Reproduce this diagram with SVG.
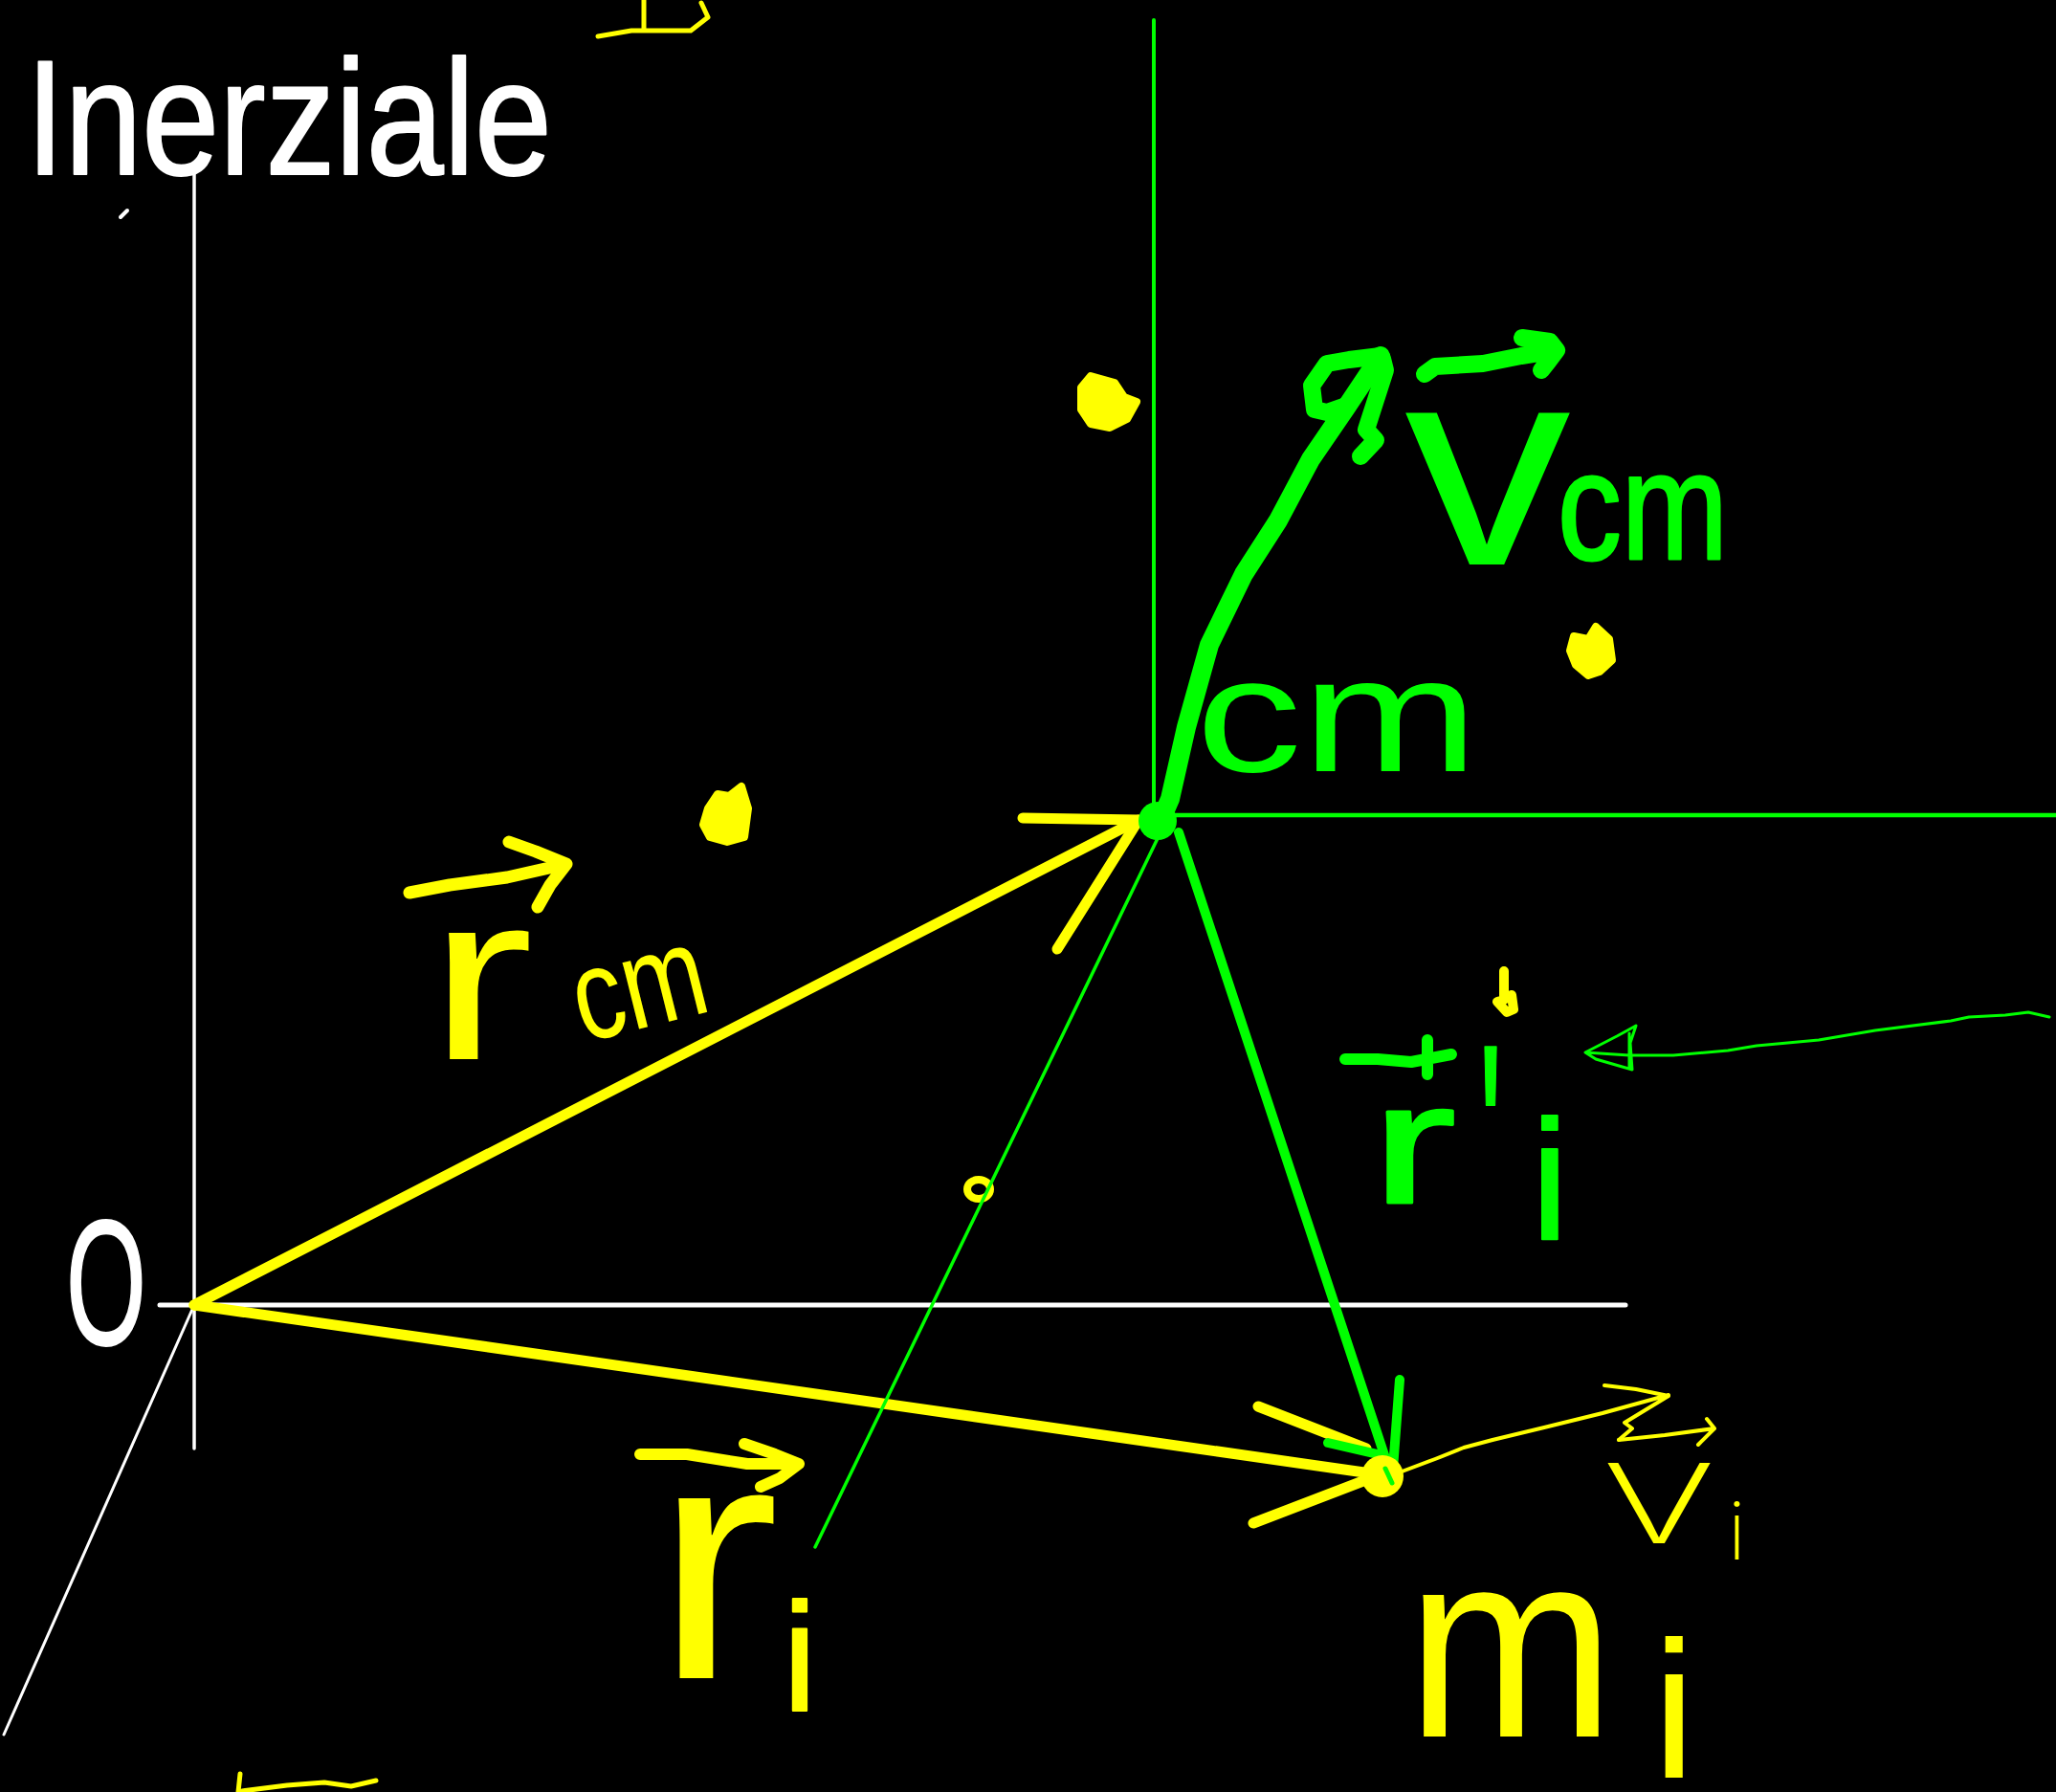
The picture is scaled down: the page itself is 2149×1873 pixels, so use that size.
<svg xmlns="http://www.w3.org/2000/svg" width="2149" height="1873" viewBox="0 0 2149 1873">
<style>
.s{fill:none;stroke-linecap:round;stroke-linejoin:round}
.W{stroke:#ffffff}.Y{stroke:#ffff00}.G{stroke:#00ff00}
.t{font-family:"Liberation Sans","DejaVu Sans",sans-serif;stroke-linejoin:round}
.tw{fill:#ffffff;stroke:#ffffff}.ty{fill:#ffff00;stroke:#ffff00}.tg{fill:#00ff00;stroke:#00ff00}
.thin{font-family:"Inter","Lato","Liberation Sans",sans-serif;font-weight:200}
</style>
<rect x="0" y="0" width="2149" height="1873" fill="#000000"/>
<g id="axes-inertial">
<line class="s W" x1="203" y1="182" x2="203" y2="1514" stroke-width="3.5"/>
<line class="s W" x1="167" y1="1364" x2="1699" y2="1364" stroke-width="5"/>
<line class="s W" x1="203" y1="1364" x2="4" y2="1813" stroke-width="3"/>
<path class="s W" d="M126,227 L133,220" stroke-width="4"/>
</g>
<g id="axes-cm">
<line class="s G" x1="1206" y1="21" x2="1206" y2="852" stroke-width="4"/>
<line class="s G" x1="1206" y1="852" x2="2149" y2="852" stroke-width="4.5"/>
</g>
<g id="scribbles">
<path class="s Y" d="M625,38 L660,32 L722,32 L740,18 L733,3 M673,32 L673,0" stroke-width="5"/>
<path class="s Y" d="M251,1854 L249,1873 M253,1872 L300,1866 L339,1863 L367,1867 L393,1861" stroke-width="5"/>
<path class="s Y" d="M1572,1015 L1572,1045 L1565,1047 L1575,1058 L1582,1055 L1580,1040" stroke-width="10"/>
</g>
<g id="particles">
<path d="M1130,405 L1140,393 L1165,400 L1175,415 L1188,420 L1178,438 L1160,447 L1140,443 L1130,428 Z" fill="#ffff00" stroke="#ffff00" stroke-width="8" stroke-linejoin="round"/>
<path d="M1645,665 L1660,668 L1668,655 L1682,668 L1685,690 L1672,702 L1660,706 L1647,695 L1641,680 Z" fill="#ffff00" stroke="#ffff00" stroke-width="8" stroke-linejoin="round"/>
<path d="M740,845 L750,830 L762,832 L775,822 L782,845 L778,875 L760,880 L742,875 L735,862 Z" fill="#ffff00" stroke="#ffff00" stroke-width="8" stroke-linejoin="round"/>
<ellipse cx="1023" cy="1243" rx="12" ry="10" fill="none" stroke="#ffff00" stroke-width="8"/>
</g>
<g id="connectors">
<g id="vec-rcm">
<line class="s Y" x1="203" y1="1364" x2="1190" y2="857" stroke-width="11"/>
<path class="s Y" d="M1069,855 L1190,857 L1105,992" stroke-width="11"/>
</g>
<g id="vec-ri">
<line class="s Y" x1="203" y1="1364" x2="1440" y2="1541" stroke-width="11"/>
<path class="s Y" d="M1315,1470 L1428,1514 M1310,1592 L1430,1546" stroke-width="11"/>
</g>
<g id="vec-vcm">
<path class="s G" d="M1213,858 L1223,835 L1240,760 L1264,674 L1300,600 L1336,544 L1370,480 L1407,426 L1443,372" stroke-width="20"/>
<path class="s G" d="M1443,372 L1410,376 L1387,380 L1371,403 L1374,428 L1387,431 L1407,424 M1445,375 L1448,387 L1428,449 L1438,460 L1422,477" stroke-width="18"/>
</g>
<g id="vec-ri-prime">
<line class="s G" x1="1232" y1="870" x2="1450" y2="1530" stroke-width="10"/>
<path class="s G" d="M1463,1442 L1455,1548 M1388,1508 L1440,1520" stroke-width="10"/>
</g>
<g id="vec-vi">
<path class="s Y" d="M1460,1540 L1500,1525 L1530,1513 L1560,1505 L1614,1492 L1675,1477 L1744,1458 M1677,1448 L1710,1452 L1744,1459 L1698,1487 L1706,1493 L1692,1505" stroke-width="4"/>
</g>
<line id="line-cm-ext" class="s G" x1="1213" y1="870" x2="852" y2="1617" stroke-width="3.5"/>
<path id="pointer" class="s G" d="M2142,1063 L2120,1058 L2096,1061 L2058,1063 L2039,1067 L1960,1077 L1901,1087 L1836,1093 L1806,1098 L1749,1103 L1703,1103 L1657,1100 L1690,1083 L1701,1077 L1710,1072 L1704,1090 L1706,1118 L1668,1107 L1657,1100 M1703,1080 L1703,1117" stroke-width="3"/>
</g>
<g id="node-cm">
<circle cx="1210" cy="858" r="20" fill="#00ff00"/>
<text class="t tg" x="1250" y="806" font-size="170" stroke-width="0" textLength="295" lengthAdjust="spacingAndGlyphs">cm</text>
</g>
<g id="node-mi">
<circle cx="1445" cy="1543" r="22" fill="#ffff00"/>
<path class="s G" d="M1448,1535 L1455,1550" stroke-width="5"/>
<text class="t ty" x="1470" y="1815" font-size="280" stroke-width="0" textLength="218" lengthAdjust="spacingAndGlyphs">m</text>
<text class="t ty" x="1727" y="1858" font-size="205" stroke-width="0">i</text>
</g>
<g id="node-origin">
<text class="t tw" x="69" y="1405" font-size="186" stroke-width="2" textLength="84" lengthAdjust="spacingAndGlyphs">O</text>
</g>
<g id="label-inerziale">
<text class="t tw" x="27" y="182" font-size="170" stroke-width="2" textLength="550" lengthAdjust="spacingAndGlyphs">Inerziale</text>
</g>
<g id="label-rcm">
<path class="s Y" d="M428,933 L470,925 L530,917 L592,903 M532,880 L560,890 L592,903 L575,925 L562,948" stroke-width="13"/>
<text class="t ty" x="447" y="1107" font-size="250" stroke-width="0" textLength="111" lengthAdjust="spacingAndGlyphs">r</text>
<text class="t ty" x="610" y="1090" font-size="135" stroke-width="0" textLength="140" lengthAdjust="spacingAndGlyphs" transform="rotate(-14 610 1090)">cm</text>
</g>
<g id="label-vcm">
<path class="s G" d="M1489,391 L1500,383 L1550,380 L1590,372 L1627,366 M1591,353 L1620,357 L1627,366 L1618,378 L1611,387" stroke-width="18"/>
<text class="t tg" x="1468" y="590" font-size="300" stroke-width="0" textLength="174" lengthAdjust="spacingAndGlyphs">v</text>
<text class="t tg" x="1628" y="584" font-size="160" stroke-width="3" textLength="178" lengthAdjust="spacingAndGlyphs">cm</text>
</g>
<g id="label-ri-prime">
<path class="s G" d="M1406,1107 L1440,1107 L1475,1110 L1517,1102 M1492,1087 L1492,1123" stroke-width="12"/>
<text class="t tg" x="1433" y="1257" font-size="180" stroke-width="3" textLength="89" lengthAdjust="spacingAndGlyphs">r</text>
<text class="t tg" x="1545" y="1287" font-size="280" stroke-width="2" textLength="26" lengthAdjust="spacingAndGlyphs">'</text>
<text class="t tg" x="1600" y="1295" font-size="179" stroke-width="2">i</text>
</g>
<g id="label-ri">
<path class="s Y" d="M669,1520 L718,1520 L781,1530 L835,1530 M778,1509 L810,1520 L835,1530 L815,1545 L795,1554" stroke-width="12"/>
<text class="t ty" x="683" y="1754" font-size="356" stroke-width="0" textLength="132" lengthAdjust="spacingAndGlyphs">r</text>
<text class="t ty" x="818" y="1788" font-size="162" stroke-width="2">i</text>
</g>
<g id="label-vi">
<path class="s Y" d="M1692,1505 L1740,1500 L1792,1493 M1784,1483 L1792,1493 L1775,1510" stroke-width="4"/>
<text class="thin ty" x="1671" y="1613" font-size="154" stroke-width="0" textLength="126" lengthAdjust="spacingAndGlyphs">v</text>
<text class="thin ty" x="1806" y="1630" font-size="84" stroke-width="0">i</text>
</g>
</svg>
